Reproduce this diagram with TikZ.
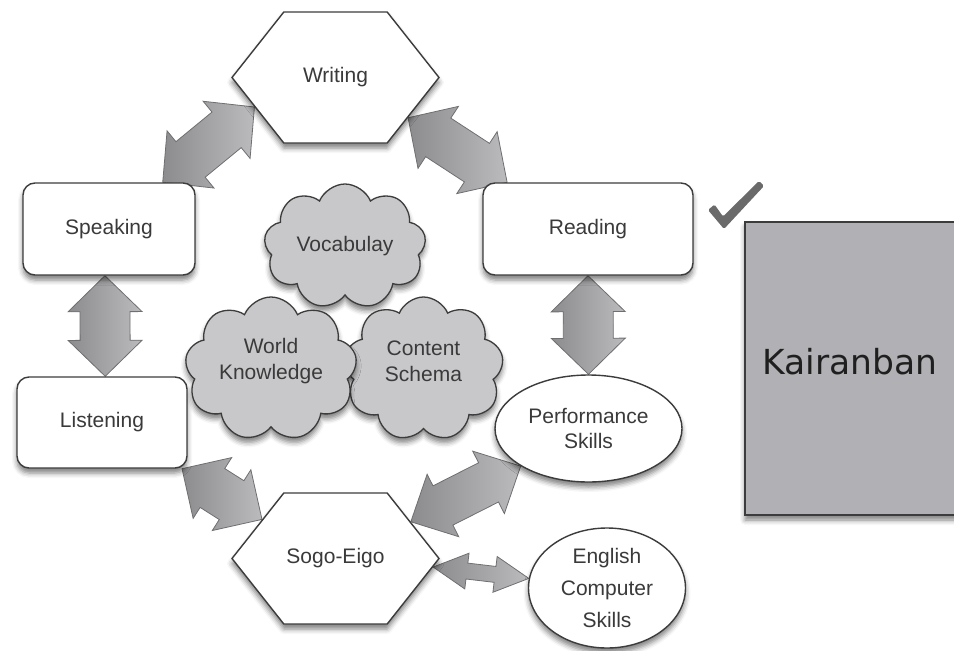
\documentclass[tikz,border=0pt]{standalone}
\usepackage{fontspec}
\setmainfont{Liberation Sans}
\newfontfamily\kairfont{DejaVu Sans}
\usetikzlibrary{calc,shapes.geometric,shapes.symbols,shadows.blur}
\pgfdeclarelayer{back}
\pgfsetlayers{back,main}

\definecolor{ink}{HTML}{3A3A3A}
\definecolor{edge}{HTML}{3C3C3C}
\definecolor{cloudgray}{HTML}{C8C8CA}
\definecolor{panelgray}{HTML}{B1B1B5}
\definecolor{arrowdark}{HTML}{8C8C8E}
\definecolor{arrowlight}{HTML}{BBBBBD}
\definecolor{arrowedge}{HTML}{6F6F71}
\definecolor{tick}{HTML}{6A6A6A}

\tikzset{
  softshadow/.style={blur shadow={shadow xshift=0pt, shadow yshift=-5pt,
      shadow blur radius=5pt, shadow opacity=50}},
  lbl/.style={text=ink, font=\fontsize{21}{25}\selectfont},
  whitebox/.style={draw=edge, line width=1.4pt, fill=white, rounded corners=12pt,
      softshadow, lbl, inner sep=0pt},
  hexnode/.style={signal, signal to=west and east, signal pointer angle=103.3,
      draw=edge, line width=1.4pt, fill=white, softshadow, lbl,
      minimum width=207pt, minimum height=131pt, inner sep=0pt},
  oval/.style={ellipse, draw=edge, line width=1.4pt, fill=white, softshadow, lbl,
      align=center, inner sep=0pt},
  puff/.style={cloud, cloud puffs=9, cloud puff arc=135, draw=edge,
      line width=1.3pt, fill=cloudgray, softshadow, inner sep=0pt},
  cloudtext/.style={lbl, align=center, font=\fontsize{21}{26}\selectfont},
  bigarrow/.style={draw=arrowedge, line width=0.8pt, line join=miter,
      left color=arrowdark, right color=arrowlight},
}

% double-headed block arrow between two points:
% #1, #2 end points, #3 head length, #4 half head width, #5 half shaft width
\newcommand\twoway[5]{%
  \path ($(#1)!#3!(#2)$) coordinate (h1) ($(#2)!#3!(#1)$) coordinate (h2);
  \draw[bigarrow] (#1) -- ($(h1)!#4!90:(#2)$) -- ($(h1)!#5!90:(#2)$)
    -- ($(h2)!#5!-90:(#1)$) -- ($(h2)!#4!-90:(#1)$) -- (#2)
    -- ($(h2)!#4!90:(#1)$) -- ($(h2)!#5!90:(#1)$)
    -- ($(h1)!#5!-90:(#2)$) -- ($(h1)!#4!-90:(#2)$) -- cycle;}

\begin{document}
\begin{tikzpicture}[x=1pt,y=-1pt]
\useasboundingbox (0,0) rectangle (954,651);

% skill nodes
\node[hexnode] (writing) at (335.5,77.5) {Writing};
\node[whitebox, minimum width=172pt, minimum height=92pt] (speak) at (109,229) {Speaking};
\node[whitebox, minimum width=210pt, minimum height=92pt] (reading) at (588,229) {Reading};
\node[whitebox, minimum width=170pt, minimum height=91pt] (listen) at (102,422.5) {Listening};
\node[oval, minimum width=187pt, minimum height=107pt] (perf) at (588.5,428.5) {Performance\\Skills};
\node[hexnode] (sogo) at (335.5,558.5) {Sogo-Eigo};
\node[oval, minimum width=157pt, minimum height=120pt,
      font=\fontsize{21}{32}\selectfont] (eng) at (607,588) {English\\Computer\\Skills};

% knowledge clouds
\node[puff, minimum width=162pt, minimum height=125pt] (vocab) at (345,246.5) {};
\node[puff, minimum width=160pt, minimum height=144pt] (content) at (423.5,369) {};
\node[puff, minimum width=172pt, minimum height=144pt] (world) at (271,369) {};
\node[cloudtext] (vocabtext) at (vocab) {Vocabulay};
\node[cloudtext] (worldtext) at ($(world)+(0,-8)$) {World\\Knowledge};
\node[cloudtext] (contenttext) at ($(content)+(0,-8)$) {Content\\Schema};

% panel on the right
\node[draw=edge, line width=1.4pt, fill=panelgray, softshadow,
      minimum width=214pt, minimum height=293pt, inner sep=0pt] (kair) at (852,368.5) {};
\node[font=\kairfont\fontsize{34.5}{40}\selectfont, text=black!88] (kairtext)
      at ($(kair)+(-2,-7)$) {Kairanban};

% check mark
\fill[tick, rounded corners=1.5pt] (708,210) -- (714.5,204.5) -- (723,216.5)
  -- (759,181) -- (764,186) -- (724,229) -- cycle;

% connecting block arrows, behind the nodes
\begin{pgfonlayer}{back}
\twoway{speak.41}{writing.200}{36pt}{37pt}{23pt}
\twoway{writing.331}{reading.150}{36pt}{37pt}{23pt}
\twoway{speak.265}{listen.86}{36pt}{37pt}{25pt}
\twoway{reading.south}{perf.north}{36pt}{37pt}{25pt}
\twoway{listen.330}{sogo.152}{36pt}{36pt}{23pt}
\twoway{sogo.26}{perf.209}{36pt}{35pt}{22pt}
\twoway{sogo.355}{eng.173}{34pt}{18pt}{8pt}
\end{pgfonlayer}
\end{tikzpicture}
\end{document}
